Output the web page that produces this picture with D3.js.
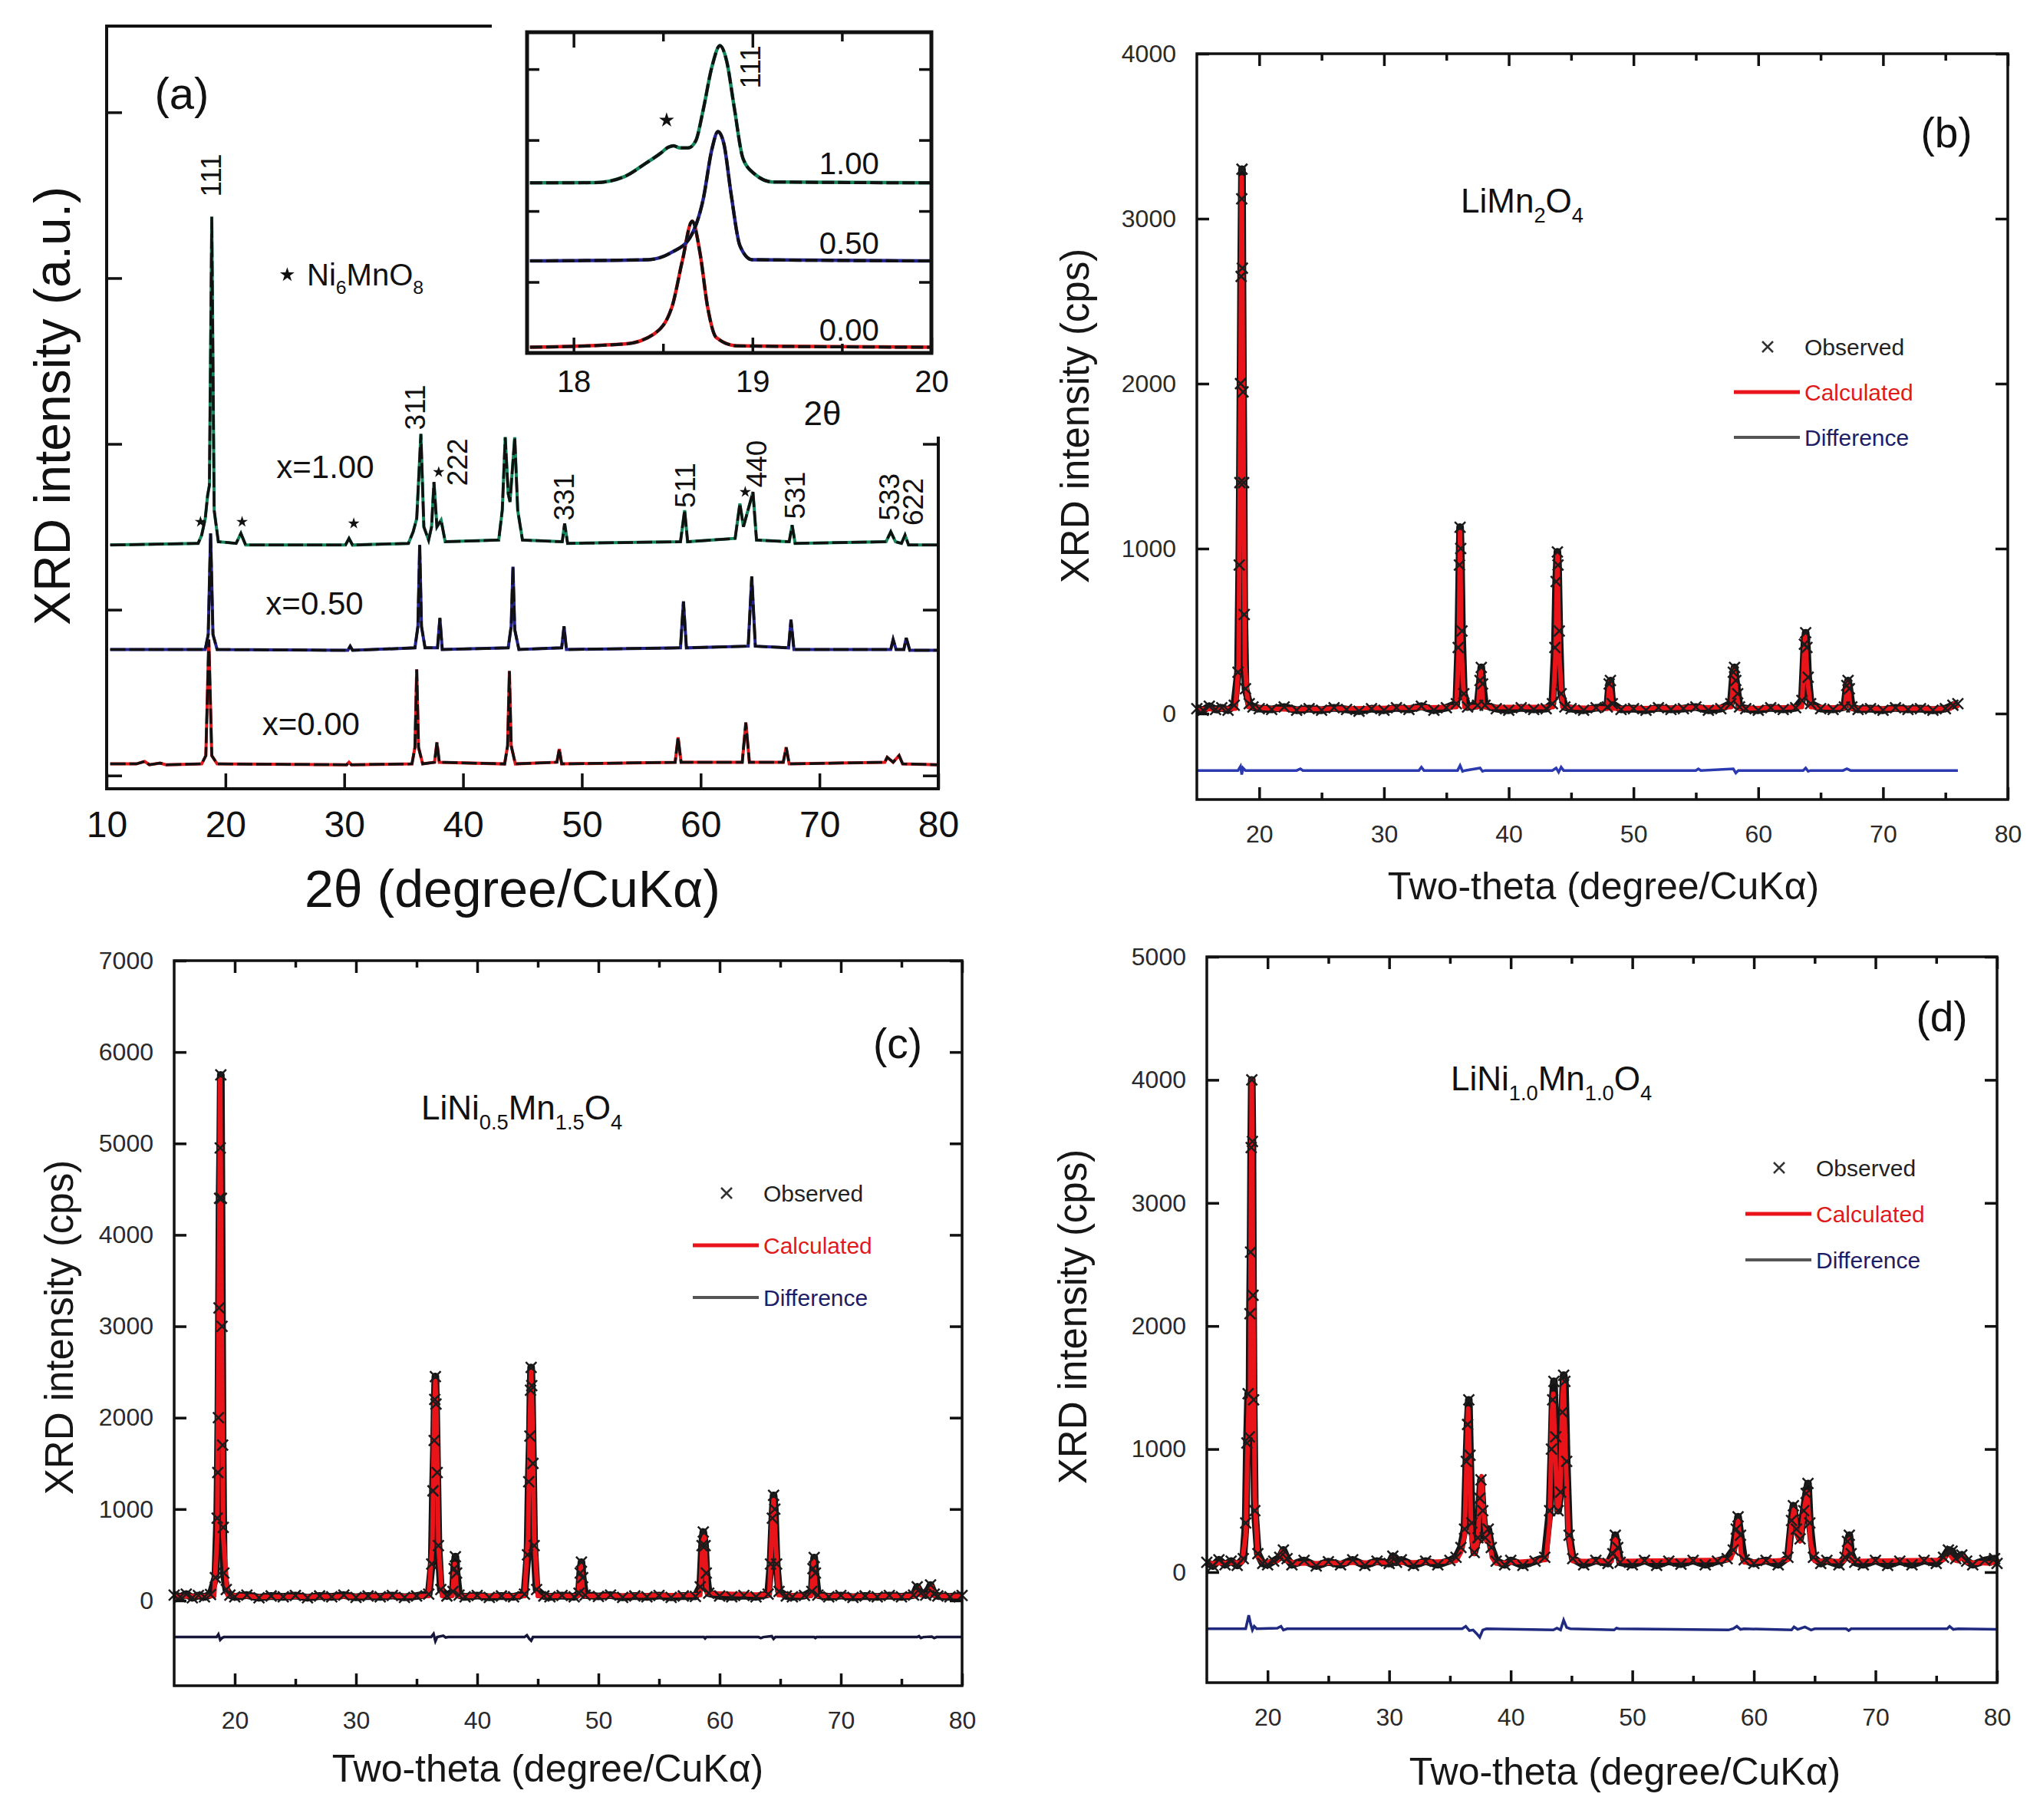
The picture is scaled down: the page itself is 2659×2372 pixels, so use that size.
<!DOCTYPE html>
<html>
<head>
<meta charset="utf-8">
<script src="https://cdn.jsdelivr.net/npm/d3@7"></script>
<style>
body { margin: 0; background: #fff; }
svg { display: block; }
</style>
</head>
<body>
<svg id="fig" width="2659" height="2372"></svg>
<script>
var FONT = "'Liberation Sans', Arial, Helvetica, sans-serif";

// ---------- panel (a): stacked patterns, arbitrary units (baseline offset included) ----------
var xrdA000 = [[10.3,0.07],[12.5,0.07],[13.2,0.085],[13.6,0.065],[14.5,0.075],[15,0.065],[18.0,0.07],[18.35,0.12],[18.6,0.82],[18.85,0.12],[19.3,0.07],
  [30.2,0.065],[30.4,0.08],[30.6,0.065],[35.7,0.07],[35.95,0.17],[36.1,0.64],[36.25,0.17],[36.6,0.07],[37.6,0.08],[37.8,0.2],[38.0,0.08],
  [43.5,0.07],[43.75,0.18],[43.9,0.63],[44.05,0.18],[44.4,0.07],[47.9,0.08],[48.1,0.16],[48.3,0.07],[57.85,0.08],[58.1,0.23],[58.35,0.08],
  [63.5,0.08],[63.8,0.32],[64.1,0.08],[66.95,0.08],[67.2,0.17],[67.45,0.07],[75.5,0.08],[75.7,0.11],[76.2,0.08],[76.7,0.12],[77.0,0.07],[80,0.065]];
var xrdA050 = [[10.3,0.76],[18.3,0.76],[18.55,0.85],[18.75,1.46],[18.95,0.85],[19.3,0.76],[30.3,0.755],[30.5,0.78],[30.7,0.755],
  [35.95,0.77],[36.2,0.9],[36.35,1.39],[36.5,0.9],[36.8,0.77],[37.85,0.77],[38.05,0.95],[38.25,0.76],[43.8,0.77],[44.05,0.9],[44.2,1.26],
  [44.35,0.88],[44.7,0.76],[48.3,0.77],[48.5,0.9],[48.7,0.76],[58.3,0.77],[58.55,1.05],[58.8,0.77],[64.0,0.78],[64.3,1.2],[64.6,0.78],
  [67.4,0.77],[67.6,0.94],[67.85,0.76],[76.0,0.76],[76.2,0.82],[76.45,0.76],[77.1,0.76],[77.3,0.83],[77.6,0.755],[80,0.755]];
var xrdA100 = [[10.3,1.39],[17.7,1.4],[18.0,1.45],[18.3,1.55],[18.5,1.69],[18.65,1.75],[18.85,3.37],[19.05,1.6],[19.4,1.41],[20.9,1.4],
  [21.3,1.46],[21.7,1.39],[30.1,1.39],[30.4,1.43],[30.7,1.39],[35.4,1.4],[35.8,1.47],[36.1,1.55],[36.45,2.06],[36.7,1.5],[37.1,1.42],
  [37.35,1.5],[37.55,1.77],[37.8,1.5],[38.15,1.54],[38.5,1.41],[43.0,1.42],[43.3,1.6],[43.55,2.04],[43.8,1.7],[43.95,1.65],[44.35,2.04],
  [44.6,1.6],[45.0,1.42],[48.35,1.41],[48.55,1.52],[48.8,1.4],[58.3,1.41],[58.65,1.6],[58.9,1.41],[62.9,1.43],[63.3,1.64],[63.6,1.5],
  [64.4,1.71],[64.7,1.42],[67.45,1.41],[67.7,1.51],[67.95,1.4],[75.6,1.41],[76.0,1.47],[76.4,1.41],[76.9,1.4],[77.2,1.45],[77.5,1.39],[80,1.39]];
var hklA = [["111",18.78,3.62],["311",35.95,2.22],["222",39.5,1.89],["331",48.5,1.68],["511",58.7,1.75],
  ["440",64.7,1.88],["531",67.9,1.69],["533",75.9,1.68],["622",77.9,1.65]];
var starsA = [[17.9,1.53],[21.4,1.53],[30.8,1.52],[37.95,1.83],[63.75,1.71]];
var sampleA = [["x=1.00",28.4,1.86],["x=0.50",27.5,1.04],["x=0.00",27.2,0.31]];

// inset: 111 reflection
var insetA000 = [[17.756,0.08],[18.285,0.126],[18.451,0.27],[18.55,0.65],[18.608,1.3],[18.663,1.856],[18.707,1.405],[18.749,0.65],
  [18.798,0.216],[18.914,0.1],[20.0,0.08]];
var insetA050 = [[17.756,1.297],[18.418,1.315],[18.55,1.42],[18.649,1.62],[18.724,2.16],[18.774,2.88],[18.807,3.12],[18.84,2.95],
  [18.881,2.23],[18.93,1.51],[18.997,1.315],[20.0,1.297]];
var insetA100 = [[17.756,2.397],[18.12,2.4],[18.285,2.486],[18.4,2.667],[18.484,2.81],[18.53,2.9],[18.559,2.92],[18.592,2.89],
  [18.641,2.89],[18.683,2.99],[18.724,3.42],[18.774,4.04],[18.818,4.33],[18.856,4.11],[18.898,3.46],[18.947,2.74],[19.013,2.52],
  [19.113,2.41],[20.0,2.397]];
var insetLabels = [["1.00",19.54,2.67],["0.50",19.54,1.55],["0.00",19.54,0.32]];

// ---------- panel (b): LiMn2O4 (cps) ----------
var obsB = [[15,30],[15.5,20],[16,45],[16.5,25],[17,35],[17.5,20],[18,50],[18.3,250],[18.4,900],[18.45,1400],[18.5,2000],[18.55,2650],
  [18.6,3120],[18.62,3300],[18.65,2700],[18.7,1950],[18.75,1400],[18.8,600],[18.9,150],[19.2,60],[19.5,40],[20,30],[21,25],[22,40],
  [23,20],[24,30],[25,20],[26,35],[27,25],[28,15],[29,30],[30,20],[31,35],[32,25],[33,45],[34,20],[35,35],[35.8,60],[35.95,400],
  [36.05,900],[36.1,1130],[36.15,1000],[36.25,500],[36.4,120],[36.7,40],[37.5,50],[37.7,200],[37.8,280],[37.9,180],[38.1,50],[39,30],
  [40,20],[41,35],[42,25],[43,30],[43.5,60],[43.7,400],[43.8,800],[43.9,980],[43.95,900],[44.05,500],[44.2,120],[44.5,40],[45,30],
  [46,20],[47,35],[47.9,40],[48.05,180],[48.15,200],[48.3,60],[49,25],[50,30],[51,20],[52,35],[53,25],[54,30],[55,40],[56,20],[57,30],
  [57.8,60],[58.0,250],[58.1,280],[58.2,200],[58.35,120],[58.5,40],[59,30],[60,20],[61,35],[62,25],[63,35],[63.5,80],[63.7,420],
  [63.8,490],[63.9,400],[64.0,220],[64.2,60],[65,30],[66,25],[66.9,40],[67.1,170],[67.2,200],[67.3,150],[67.5,40],[68,25],[69,30],
  [70,20],[71,35],[72,25],[73,30],[74,20],[75,30],[75.6,50],[76,60]];
var calcB = [[15,25],[18.1,30],[18.35,300],[18.5,2000],[18.6,3250],[18.7,2000],[18.85,300],[19.1,40],[22,25],[35.8,40],[36.0,400],
  [36.1,1100],[36.2,400],[36.45,40],[37.55,40],[37.75,260],[37.95,40],[43.55,40],[43.75,350],[43.9,960],[44.05,350],[44.3,40],[47.9,30],
  [48.1,190],[48.3,30],[57.85,40],[58.05,270],[58.25,120],[58.45,30],[63.5,40],[63.75,470],[63.95,200],[64.2,40],[66.95,35],[67.15,190],
  [67.4,30],[75.4,30],[75.7,60],[76.0,30]];
var diffB = [[15,-345],[18.3,-345],[18.5,-320],[18.6,-370],[18.7,-330],[18.9,-345],[23,-345],[23.3,-335],[23.5,-345],[32.8,-345],
  [33,-325],[33.2,-345],[35.9,-345],[36.1,-315],[36.3,-350],[36.5,-345],[37.7,-330],[37.9,-350],[38.1,-345],[43.5,-345],[43.8,-330],
  [44.0,-355],[44.2,-325],[44.4,-345],[55,-345],[55.2,-335],[55.4,-345],[58,-335],[58.2,-360],[58.4,-345],[63.6,-345],[63.8,-330],
  [64,-350],[64.2,-345],[66.8,-345],[67.1,-335],[67.4,-345],[76,-345]];

// ---------- panel (c): LiNi0.5Mn1.5O4 (cps) ----------
var obsC = [[15,60],[15.5,40],[16,70],[16.5,30],[17,55],[17.5,40],[18,65],[18.4,250],[18.55,900],[18.6,1400],[18.65,2000],[18.7,3200],
  [18.75,4400],[18.8,4950],[18.85,5750],[18.9,4400],[18.95,3000],[19.0,1700],[19.05,800],[19.1,300],[19.3,120],[19.6,60],[20,40],[21,60],
  [22,30],[23,50],[24,40],[25,55],[26,30],[27,50],[28,40],[29,60],[30,35],[31,50],[32,40],[33,55],[34,35],[35,50],[36,70],[36.25,400],
  [36.35,1200],[36.45,1750],[36.5,2200],[36.55,2450],[36.6,2150],[36.7,1400],[36.8,600],[37.0,120],[37.5,50],[38.0,100],[38.1,350],
  [38.2,480],[38.3,300],[38.5,60],[39,40],[40,55],[41,35],[42,50],[43,40],[43.9,70],[44.15,500],[44.25,1300],[44.35,1800],[44.4,2300],
  [44.45,2550],[44.5,2350],[44.6,1500],[44.7,600],[44.9,120],[45.5,50],[46,40],[47,55],[48,40],[48.4,80],[48.5,300],[48.6,420],
  [48.7,250],[48.9,60],[50,45],[51,60],[52,35],[53,50],[54,40],[55,55],[56,35],[57,50],[58,45],[58.4,150],[58.55,600],[58.65,750],
  [58.8,600],[58.9,300],[59.1,80],[60,50],[61,40],[62,55],[63,40],[64,70],[64.2,400],[64.35,900],[64.45,1150],[64.55,1000],[64.7,400],
  [64.9,100],[65.5,50],[66,40],[67,55],[67.6,100],[67.7,350],[67.8,470],[67.9,300],[68.1,60],[69,40],[70,55],[71,35],[72,50],[73,40],
  [74,55],[75,40],[76,60],[76.3,150],[76.6,80],[77.0,60],[77.4,170],[77.7,70],[78,50],[79,40],[80,55]];
var calcC = [[15,45],[18.3,50],[18.55,700],[18.7,3500],[18.8,5700],[18.9,3500],[19.05,700],[19.4,60],[22,40],[36.0,50],[36.3,600],
  [36.45,2000],[36.55,2400],[36.65,2000],[36.8,600],[37.1,50],[37.95,50],[38.15,400],[38.35,50],[43.9,50],[44.2,700],[44.35,2000],
  [44.45,2500],[44.55,2000],[44.7,700],[45.0,50],[48.35,50],[48.55,380],[48.75,50],[58.4,60],[58.6,650],[58.75,700],[58.95,80],
  [64.1,60],[64.35,900],[64.45,1100],[64.6,700],[64.85,60],[67.55,50],[67.75,430],[67.95,50],[76.1,50],[76.35,140],[76.6,60],
  [77.25,60],[77.5,150],[77.75,50],[80,45]];
var diffC = [[15,-400],[18.5,-400],[18.65,-370],[18.8,-430],[18.95,-410],[19.1,-400],[36.2,-400],[36.4,-365],[36.55,-445],[36.7,-400],
  [37.2,-385],[37.4,-405],[37.6,-400],[43.9,-400],[44.1,-380],[44.3,-420],[44.45,-440],[44.6,-400],[58.7,-400],[58.8,-415],[58.9,-400],
  [63.2,-400],[63.4,-410],[63.6,-400],[64.3,-390],[64.45,-420],[64.6,-400],[67.8,-400],[67.9,-410],[68,-400],[76.3,-400],[76.45,-390],
  [76.6,-410],[76.8,-400],[77.5,-395],[77.7,-410],[77.9,-400],[80,-400]];

// ---------- panel (d): LiNi1.0Mn1.0O4 (cps) ----------
var obsD = [[15,80],[15.5,50],[16,100],[16.5,60],[17,90],[17.5,55],[18,110],[18.2,400],[18.3,1050],[18.4,1450],[18.5,1100],[18.55,2100],
  [18.6,2600],[18.65,3450],[18.7,4000],[18.75,3500],[18.8,2250],[18.85,1400],[18.95,500],[19.2,150],[19.6,70],[20,60],[20.5,90],
  [21.0,120],[21.3,180],[21.6,110],[22,60],[23,95],[24,50],[25,85],[26,60],[27,100],[28,55],[29,90],[30,70],[30.3,130],[30.6,80],
  [31,100],[32,55],[33,90],[34,60],[35,95],[35.5,120],[35.9,200],[36.2,350],[36.35,900],[36.45,1200],[36.55,1400],[36.65,950],
  [36.8,400],[37.0,160],[37.3,280],[37.45,600],[37.55,750],[37.7,500],[37.9,280],[38.15,350],[38.4,200],[38.8,90],[39.5,60],[40,95],
  [41,55],[42,90],[42.8,120],[43.2,500],[43.35,1000],[43.45,1400],[43.55,1550],[43.7,1100],[43.9,500],[44.1,650],[44.25,1300],
  [44.35,1600],[44.45,1550],[44.6,900],[44.8,300],[45.1,110],[46,60],[47,95],[48,70],[48.4,150],[48.6,300],[48.8,200],[49,80],[50,60],
  [51,95],[52,55],[53,90],[54,65],[55,95],[56,60],[57,90],[57.8,110],[58.3,180],[58.55,350],[58.7,450],[58.9,300],[59.2,100],[60,70],
  [61,95],[62,60],[62.8,120],[63.1,420],[63.25,540],[63.5,350],[63.8,270],[64.1,500],[64.3,640],[64.45,720],[64.6,400],[64.9,120],
  [65.5,70],[66,95],[67,60],[67.5,120],[67.7,250],[67.85,300],[68.0,150],[68.3,80],[69,60],[70,95],[71,55],[72,90],[73,60],[74,95],
  [75,70],[75.6,120],[76.0,180],[76.3,170],[76.6,110],[77.1,140],[77.5,90],[78,60],[79,95],[79.8,110],[80,70]];
var calcD = [[15,70],[17.9,80],[18.2,300],[18.35,1000],[18.45,1400],[18.55,1100],[18.6,2500],[18.7,4000],[18.8,2500],[18.95,600],
  [19.2,120],[19.6,80],[20.8,90],[21.2,170],[21.6,90],[22.5,70],[30.0,80],[30.3,120],[30.6,75],[35.5,90],[35.9,160],[36.2,300],
  [36.4,1000],[36.5,1330],[36.6,1000],[36.75,300],[37.0,150],[37.3,250],[37.5,700],[37.6,780],[37.75,500],[38.0,250],[38.2,300],
  [38.45,120],[38.8,70],[42.9,100],[43.2,400],[43.4,1300],[43.5,1450],[43.65,1000],[43.85,500],[44.05,600],[44.25,1400],[44.35,1550],
  [44.5,1000],[44.75,300],[45.1,90],[48.3,90],[48.6,280],[48.9,90],[57.8,100],[58.1,110],[58.45,200],[58.7,420],[58.95,150],[59.2,80],
  [62.8,100],[63.1,400],[63.3,520],[63.55,300],[63.8,250],[64.2,550],[64.4,650],[64.65,250],[65,90],[67.4,90],[67.75,270],[68.05,90],
  [75.6,100],[76.0,160],[76.4,100],[76.8,90],[77.15,130],[77.5,80],[79.5,70],[79.9,100],[80,80]];
var diffD = [[15,-460],[18.2,-460],[18.45,-350],[18.6,-420],[18.75,-470],[18.9,-440],[19.1,-460],[20.8,-455],[21.1,-440],[21.3,-470],
  [21.6,-460],[36.0,-460],[36.3,-440],[36.6,-475],[36.9,-470],[37.2,-500],[37.45,-530],[37.7,-470],[38.0,-460],[43.5,-470],[43.8,-455],
  [44.1,-470],[44.35,-390],[44.6,-450],[44.9,-460],[48.5,-470],[48.7,-455],[48.9,-460],[57.9,-470],[58.3,-460],[58.6,-440],[58.9,-465],
  [59.2,-460],[63.1,-470],[63.3,-445],[63.6,-465],[64.2,-445],[64.4,-455],[64.7,-470],[65,-460],[67.6,-460],[67.8,-475],[68,-460],
  [75.9,-460],[76.1,-440],[76.4,-465],[76.8,-460],[80,-465]];

var xMajor = [20, 30, 40, 50, 60, 70, 80];
var xMinor = [25, 35, 45, 55, 65, 75];
var legendNames = ["Observed", "Calculated", "Difference"];

var svg = d3.select("#fig");
svg.append("rect").attr("width", 2659).attr("height", 2372).attr("fill", "#fff");

function formula(g, cx, cy, parts, size, anchor) {
  var t = g.append("text").attr("x", cx).attr("y", cy + size * 0.35).attr("font-size", size)
    .attr("font-family", FONT).attr("fill", "#111").attr("text-anchor", anchor || "middle");
  parts.forEach(function (p, i) {
    var s = t.append("tspan").text(p[0]);
    if (p[1]) s.attr("font-size", size * 0.62).attr("dy", size * 0.28);
    else if (i > 0 && parts[i - 1][1]) s.attr("dy", -size * 0.28);
  });
}
function xMark(s) { return "M" + (-s) + "," + (-s) + "L" + s + "," + s + "M" + (-s) + "," + s + "L" + s + "," + (-s); }
function styleAxis(g, size, color) {
  g.select(".domain").remove();
  g.attr("font-family", FONT).attr("font-size", size);
  g.selectAll(".tick line").attr("stroke", "#111").attr("stroke-width", 3.5);
  g.selectAll(".tick text").attr("fill", color || "#111");
}

// ================= panel (a) =================
var ax = d3.scaleLinear().domain([10, 80]).range([139, 1223]);
var ay = d3.scaleLinear().domain([-0.08, 4.52]).range([1028, 34]);
var lineA = d3.line().x(function (d) { return ax(d[0]); }).y(function (d) { return ay(d[1]); });
var gA = svg.append("g");
[[xrdA000, "#e2191c"], [xrdA050, "#23238f"], [xrdA100, "#14875a"]].forEach(function (s) {
  gA.append("path").datum(s[0]).attr("d", lineA).attr("fill", "none").attr("stroke", s[1]).attr("stroke-width", 4);
  gA.append("path").datum(s[0]).attr("d", lineA).attr("fill", "none").attr("stroke", "#111")
    .attr("stroke-width", 3.5).attr("stroke-dasharray", "20,5");
});
gA.append("path").attr("d", "M641,34H139V1028H1223V569").attr("fill", "none").attr("stroke", "#111").attr("stroke-width", 4);
styleAxis(gA.append("g").attr("transform", "translate(0,1028)")
  .call(d3.axisBottom(ax).tickValues([10, 20, 30, 40, 50, 60, 70, 80]).tickSize(-20).tickPadding(29).tickFormat(d3.format("d"))), 48);
styleAxis(gA.append("g").attr("transform", "translate(139,0)")
  .call(d3.axisLeft(ay).tickValues([0, 1, 2, 3, 4]).tickSize(-20).tickFormat("")), 48);
styleAxis(gA.append("g").attr("transform", "translate(1223,0)")
  .call(d3.axisRight(ay).tickValues([0, 1, 2]).tickSize(-20).tickFormat("")), 48);

gA.append("text").attr("transform", "translate(68,529) rotate(-90)").attr("text-anchor", "middle").attr("dy", "0.35em")
  .attr("font-family", FONT).attr("font-size", 66).attr("fill", "#111").text("XRD intensity (a.u.)");
gA.append("text").attr("x", 668).attr("y", 1158).attr("dy", "0.35em").attr("text-anchor", "middle")
  .attr("font-family", FONT).attr("font-size", 68).attr("fill", "#111").text("2θ (degree/CuKα)");
gA.append("text").attr("x", 237).attr("y", 122).attr("dy", "0.35em").attr("text-anchor", "middle")
  .attr("font-family", FONT).attr("font-size", 58).attr("fill", "#111").text("(a)");

gA.selectAll(".hkl").data(hklA).enter().append("text")
  .attr("transform", function (d) { return "translate(" + ax(d[1]) + "," + ay(d[2]) + ") rotate(-90)"; })
  .attr("text-anchor", "middle").attr("dy", "0.35em").attr("font-family", FONT).attr("font-size", 37).attr("fill", "#111")
  .text(function (d) { return d[0]; });
var star = d3.symbol().type(d3.symbolStar);
gA.selectAll(".star").data(starsA).enter().append("path")
  .attr("transform", function (d) { return "translate(" + ax(d[0]) + "," + ay(d[1]) + ")"; })
  .attr("d", star.size(70)()).attr("fill", "#111");
gA.selectAll(".smp").data(sampleA).enter().append("text")
  .attr("x", function (d) { return ax(d[1]); }).attr("y", function (d) { return ay(d[2]); }).attr("dy", "0.35em")
  .attr("text-anchor", "middle").attr("font-family", FONT).attr("font-size", 42).attr("fill", "#111")
  .text(function (d) { return d[0]; });
gA.append("path").attr("transform", "translate(" + ax(25.2) + "," + ay(3.02) + ")").attr("d", star.size(110)()).attr("fill", "#111");
formula(gA, 400, 358, [["Ni"], ["6", 1], ["MnO"], ["8", 1]], 40, "start");

// inset
var ix = d3.scaleLinear().domain([17.74, 20]).range([687, 1214]);
var iy = d3.scaleLinear().domain([0, 4.52]).range([460, 42]);
var lineI = d3.line().curve(d3.curveMonotoneX).x(function (d) { return ix(d[0]); }).y(function (d) { return iy(d[1]); });
var gI = svg.append("g");
gI.append("rect").attr("x", 687).attr("y", 42).attr("width", 527).attr("height", 418).attr("fill", "#fff");
[[insetA000, "#e2191c"], [insetA050, "#23238f"], [insetA100, "#14875a"]].forEach(function (s) {
  gI.append("path").datum(s[0]).attr("d", lineI).attr("fill", "none").attr("stroke", s[1]).attr("stroke-width", 4.5);
  gI.append("path").datum(s[0]).attr("d", lineI).attr("fill", "none").attr("stroke", "#111")
    .attr("stroke-width", 4).attr("stroke-dasharray", "16,5");
});
styleAxis(gI.append("g").attr("transform", "translate(0,460)")
  .call(d3.axisBottom(ix).tickValues([18, 19, 20]).tickSize(-20).tickPadding(23).tickFormat(d3.format("d"))), 40);
styleAxis(gI.append("g").attr("transform", "translate(0,460)")
  .call(d3.axisBottom(ix).tickValues([18.5, 19.5]).tickSize(-12).tickFormat("")), 40);
styleAxis(gI.append("g").attr("transform", "translate(0,42)")
  .call(d3.axisTop(ix).tickValues([18, 19]).tickSize(-20).tickFormat("")), 40);
styleAxis(gI.append("g").attr("transform", "translate(0,42)")
  .call(d3.axisTop(ix).tickValues([18.5, 19.5]).tickSize(-12).tickFormat("")), 40);
styleAxis(gI.append("g").attr("transform", "translate(687,0)")
  .call(d3.axisLeft(iy).tickValues([1, 2, 3, 4]).tickSize(-16).tickFormat("")), 40);
styleAxis(gI.append("g").attr("transform", "translate(1214,0)")
  .call(d3.axisRight(iy).tickValues([1, 2, 3, 4]).tickSize(-16).tickFormat("")), 40);
gI.append("rect").attr("x", 687).attr("y", 42).attr("width", 527).attr("height", 418)
  .attr("fill", "none").attr("stroke", "#111").attr("stroke-width", 5);
gI.selectAll(".il").data(insetLabels).enter().append("text")
  .attr("x", function (d) { return ix(d[1]); }).attr("y", function (d) { return iy(d[2]); }).attr("dy", "0.35em")
  .attr("text-anchor", "middle").attr("font-family", FONT).attr("font-size", 40).attr("fill", "#111")
  .text(function (d) { return d[0]; });
gI.append("text").attr("transform", "translate(" + ix(18.99) + "," + iy(4.03) + ") rotate(-90)").attr("text-anchor", "middle")
  .attr("dy", "0.35em").attr("font-family", FONT).attr("font-size", 37).attr("fill", "#111").text("111");
gI.append("path").attr("transform", "translate(" + ix(18.52) + "," + iy(3.28) + ")").attr("d", star.size(120)()).attr("fill", "#111");
gI.append("text").attr("x", 1072).attr("y", 539).attr("dy", "0.35em").attr("text-anchor", "middle")
  .attr("font-family", FONT).attr("font-size", 44).attr("fill", "#111").text("2θ");

// ================= Rietveld panels (b)(c)(d) =================
function refine(o) {
  var x = d3.scaleLinear().domain([15, 80]).range([o.left, o.right]);
  var y = d3.scaleLinear().domain(o.yDomain).range([o.bottom, o.top]);
  var line = d3.line().x(function (d) { return x(d[0]); }).y(function (d) { return y(d[1]); });
  var g = svg.append("g");

  g.append("path").datum(o.diff).attr("d", line).attr("fill", "none").attr("stroke", o.diffColor).attr("stroke-width", 3.5);
  g.append("path").datum(o.obs).attr("d", line).attr("fill", "none").attr("stroke", "#141414")
    .attr("stroke-width", 10).attr("stroke-linejoin", "round");
  g.append("path").datum(o.calc).attr("d", line).attr("fill", "none").attr("stroke", "#e8141a")
    .attr("stroke-width", 6).attr("stroke-linejoin", "round");
  g.selectAll(".obs").data(o.obs).enter().append("path")
    .attr("transform", function (d) { return "translate(" + x(d[0]) + "," + y(d[1]) + ")"; })
    .attr("d", xMark(7)).attr("stroke", "#1c1c1c").attr("stroke-width", 2.5).attr("fill", "none");

  styleAxis(g.append("g").attr("transform", "translate(0," + o.bottom + ")")
    .call(d3.axisBottom(x).tickValues(xMajor).tickSize(-16).tickPadding(33).tickFormat(d3.format("d"))), 32, "#2a2a2a");
  styleAxis(g.append("g").attr("transform", "translate(0," + o.bottom + ")")
    .call(d3.axisBottom(x).tickValues(xMinor).tickSize(-9).tickFormat("")), 32);
  styleAxis(g.append("g").attr("transform", "translate(0," + o.top + ")")
    .call(d3.axisTop(x).tickValues(xMajor).tickSize(-16).tickFormat("")), 32);
  styleAxis(g.append("g").attr("transform", "translate(0," + o.top + ")")
    .call(d3.axisTop(x).tickValues(xMinor).tickSize(-9).tickFormat("")), 32);
  styleAxis(g.append("g").attr("transform", "translate(" + o.left + ",0)")
    .call(d3.axisLeft(y).tickValues(o.yTicks).tickSize(-16).tickPadding(27).tickFormat(d3.format("d"))), 32, "#2a2a2a");
  styleAxis(g.append("g").attr("transform", "translate(" + o.right + ",0)")
    .call(d3.axisRight(y).tickValues(o.yTicks).tickSize(-16).tickFormat("")), 32);
  g.append("rect").attr("x", o.left).attr("y", o.top).attr("width", o.right - o.left).attr("height", o.bottom - o.top)
    .attr("fill", "none").attr("stroke", "#111").attr("stroke-width", 3.5);

  g.append("text").attr("transform", "translate(" + (o.left - o.yTitleOff) + "," + o.yTitleY + ") rotate(-90)")
    .attr("text-anchor", "middle").attr("dy", "0.35em").attr("font-family", FONT).attr("font-size", 51).attr("fill", "#161616")
    .text("XRD intensity (cps)");
  g.append("text").attr("x", o.xTitleX).attr("y", o.xTitleY).attr("dy", "0.35em").attr("text-anchor", "middle")
    .attr("font-family", FONT).attr("font-size", 50).attr("fill", "#161616").text("Two-theta (degree/CuKα)");
  g.append("text").attr("x", o.tag[1]).attr("y", o.tag[2]).attr("dy", "0.35em").attr("text-anchor", "middle")
    .attr("font-family", FONT).attr("font-size", 55).attr("fill", "#111").text(o.tag[0]);
  formula(g, o.formulaPos[0], o.formulaPos[1], o.formula, 44);

  // legend
  var lx = o.legend[0], ly = o.legend[1], gap = o.legend[2];
  g.append("path").attr("transform", "translate(" + (lx - 48) + "," + ly + ")").attr("d", xMark(7))
    .attr("stroke", "#333").attr("stroke-width", 2.5);
  g.append("line").attr("x1", lx - 92).attr("x2", lx - 6).attr("y1", ly + gap).attr("y2", ly + gap)
    .attr("stroke", "#e8141a").attr("stroke-width", 5);
  g.append("line").attr("x1", lx - 92).attr("x2", lx - 6).attr("y1", ly + 2 * gap).attr("y2", ly + 2 * gap)
    .attr("stroke", "#555").attr("stroke-width", 4);
  g.selectAll(".leg").data(legendNames).enter().append("text")
    .attr("x", lx).attr("y", function (d, i) { return ly + i * gap; }).attr("dy", "0.35em")
    .attr("font-family", FONT).attr("font-size", 30)
    .attr("fill", function (d, i) { return ["#222", "#e01a1a", "#1d1d66"][i]; })
    .text(function (d) { return d; });
}

refine({ left: 1560, right: 2617, top: 70, bottom: 1042, yDomain: [-521, 4000], yTicks: [0, 1000, 2000, 3000, 4000],
  obs: obsB, calc: calcB, diff: diffB, diffColor: "#2c3ab2",
  yTitleOff: 159, yTitleY: 542, xTitleX: 2090, xTitleY: 1154,
  tag: ["(b)", 2537, 173], formulaPos: [1984, 262], formula: [["LiMn"], ["2", 1], ["O"], ["4", 1]],
  legend: [2352, 452, 59] });
refine({ left: 227, right: 1254, top: 1252, bottom: 2197, yDomain: [-932, 7000], yTicks: [0, 1000, 2000, 3000, 4000, 5000, 6000, 7000],
  obs: obsC, calc: calcC, diff: diffC, diffColor: "#16163a",
  yTitleOff: 150, yTitleY: 1730, xTitleX: 714, xTitleY: 2304,
  tag: ["(c)", 1170, 1360], formulaPos: [680, 1444], formula: [["LiNi"], ["0.5", 1], ["Mn"], ["1.5", 1], ["O"], ["4", 1]],
  legend: [995, 1555, 68] });
refine({ left: 1573, right: 2603, top: 1247, bottom: 2193, yDomain: [-898, 5000], yTicks: [0, 1000, 2000, 3000, 4000, 5000],
  obs: obsD, calc: calcD, diff: diffD, diffColor: "#1f2a80",
  yTitleOff: 175, yTitleY: 1716, xTitleX: 2118, xTitleY: 2308,
  tag: ["(d)", 2531, 1325], formulaPos: [2022, 1406], formula: [["LiNi"], ["1.0", 1], ["Mn"], ["1.0", 1], ["O"], ["4", 1]],
  legend: [2367, 1522, 60] });
</script>
</body>
</html>
